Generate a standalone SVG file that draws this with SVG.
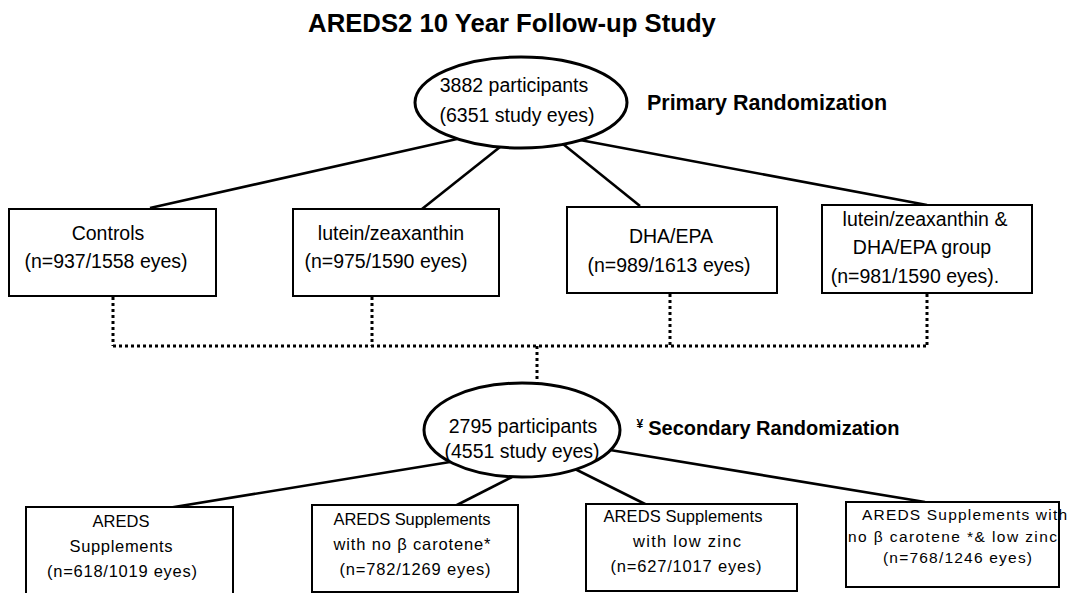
<svg xmlns="http://www.w3.org/2000/svg" width="1071" height="593" viewBox="0 0 1071 593">
<style>
text{font-family:"Liberation Sans",Arial,sans-serif;fill:#000;text-anchor:middle}
.t{font-size:19.5px}
.s{font-size:16.5px}
.x{font-size:15.5px}
.b{font-weight:bold}
.box{fill:#fff;stroke:#000;stroke-width:2}
.ell{fill:#fff;stroke:#000;stroke-width:3}
.ln{stroke:#000;stroke-width:2.6;fill:none}
.dot{stroke:#000;stroke-width:3;stroke-dasharray:3 3;fill:none}
</style>
<rect width="1071" height="593" fill="#fff"/>
<text id="title" class="b" x="512" y="32" font-size="25.7px">AREDS2 10 Year Follow-up Study</text>
<text id="primary-label" class="b" x="767" y="110" font-size="21.5px">Primary Randomization</text>
<text id="secondary-label" class="b" x="768" y="435" font-size="20px"><tspan font-size="12px" dy="-7">¥</tspan><tspan dx="5" dy="7">Secondary Randomization</tspan></text>
<g id="connectors">
<line class="ln" x1="457" y1="139" x2="150" y2="208"/>
<line class="ln" x1="500" y1="147" x2="422" y2="209"/>
<line class="ln" x1="563" y1="144" x2="640" y2="206"/>
<line class="ln" x1="580" y1="140" x2="927" y2="205"/>
<path class="dot" d="M113 297V346M372 297V346M670 294V346M927 294V346M113 346H927M537 346V384"/>
<line class="ln" x1="450" y1="462" x2="168" y2="508"/>
<line class="ln" x1="512" y1="477" x2="455" y2="506"/>
<line class="ln" x1="575" y1="469" x2="647" y2="505"/>
<line class="ln" x1="610" y1="450" x2="925" y2="502"/>
</g>
<g id="root1">
<ellipse class="ell" cx="521" cy="102.5" rx="106" ry="45.5"/>
<text class="t" x="514" y="92">3882 participants</text>
<text class="t" x="517" y="122">(6351 study eyes)</text>
</g>
<g id="controls">
<rect class="box" x="9" y="209" width="207" height="87"/>
<text class="t" x="108" y="240">Controls</text>
<text class="t" x="106" y="268">(n=937/1558 eyes)</text>
</g>
<g id="lutein">
<rect class="box" x="293" y="209" width="206" height="87"/>
<text class="t" x="391" y="240">lutein/zeaxanthin</text>
<text class="t" x="386" y="268">(n=975/1590 eyes)</text>
</g>
<g id="dha">
<rect class="box" x="567" y="207" width="210" height="86"/>
<text class="t" x="671" y="243">DHA/EPA</text>
<text class="t" x="669" y="272">(n=989/1613 eyes)</text>
</g>
<g id="lutein-dha">
<rect class="box" x="822" y="205" width="210" height="88"/>
<text class="t" x="925" y="226">lutein/zeaxanthin &amp;</text>
<text class="t" x="922" y="254">DHA/EPA group</text>
<text class="t" x="915" y="283">(n=981/1590 eyes).</text>
</g>
<g id="root2">
<ellipse class="ell" cx="522" cy="430" rx="98" ry="47"/>
<text class="t" x="523" y="433">2795 participants</text>
<text class="t" x="522" y="458">(4551 study eyes)</text>
</g>
<g id="areds">
<rect class="box" x="26" y="507" width="207" height="90"/>
<text class="s" x="121" y="527">AREDS</text>
<text class="s" x="121" y="552" textLength="103">Supplements</text>
<text class="s" x="122" y="577" textLength="150">(n=618/1019 eyes)</text>
</g>
<g id="no-beta">
<rect class="box" x="312" y="505" width="206" height="87"/>
<text class="s" x="412" y="525" textLength="157">AREDS Supplements</text>
<text class="s" x="412" y="550" textLength="157">with no β carotene*</text>
<text class="s" x="415" y="575" textLength="151">(n=782/1269 eyes)</text>
</g>
<g id="low-zinc">
<rect class="box" x="586" y="504" width="211" height="87"/>
<text class="s" x="683" y="522" textLength="159">AREDS Supplements</text>
<text class="s" x="687" y="547" textLength="108">with low zinc</text>
<text class="s" x="686" y="572" textLength="151">(n=627/1017 eyes)</text>
</g>
<g id="no-beta-low-zinc">
<rect class="box" x="846" y="502" width="213" height="85"/>
<text class="x" x="964.5" y="520" textLength="205">AREDS Supplements with</text>
<text class="x" x="952.5" y="542" textLength="209">no β carotene *&amp; low zinc</text>
<text class="x" x="957.5" y="563" textLength="149">(n=768/1246 eyes)</text>
</g>
</svg>
